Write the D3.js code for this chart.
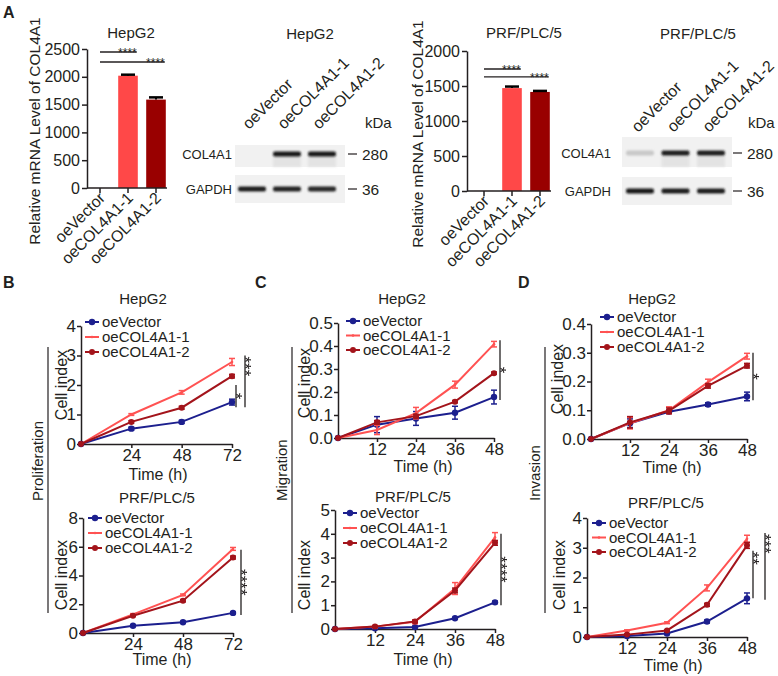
<!DOCTYPE html>
<html><head><meta charset="utf-8">
<script src="https://cdn.jsdelivr.net/npm/d3@7"></script>
<style>
body{margin:0;background:#fff;}
svg{display:block;}
.star{opacity:0.999;}
</style></head><body>
<svg id="chart" width="778" height="676"></svg>
<script>
// ---------------- DATA ----------------
const groups = ["oeVector", "oeCOL4A1-1", "oeCOL4A1-2"];
const mrnaHepG2 = [1, 2020, 1590];
const mrnaHepG2Err = [0, 18, 40];
const mrnaPRF = [1, 1470, 1415];
const mrnaPRFErr = [0, 22, 15];
const mrnaTicksHepG2 = [0, 500, 1000, 1500, 2000, 2500];
const mrnaTicksPRF = [0, 500, 1000, 1500, 2000];
const sigHepG2 = [{from: 0, to: 1, level: 2446, label: "****"}, {from: 0, to: 2, level: 2266, label: "****"}];
const sigPRF = [{from: 0, to: 1, level: 1743, label: "****"}, {from: 0, to: 2, level: 1629, label: "****"}];

const blotHepG2COL = [0.0, 0.95, 0.95];
const blotHepG2GAPDH = [0.92, 0.9, 0.88];
const blotPRFCOL = [0.18, 0.92, 0.92];
const blotPRFGAPDH = [0.95, 0.92, 0.92];

const timeProlif = [0, 24, 48, 72];
const timeMigInv = [0, 12, 24, 36, 48];

// Proliferation
const prolHepVector = [0, 0.52, 0.75, 1.42];
const prolHepC1 = [0, 1.0, 1.75, 2.78];
const prolHepC2 = [0, 0.75, 1.23, 2.3];
const prolHepErr = [[0, 0.05, 0.05, 0.1], [0, 0.03, 0.06, 0.12], [0, 0.04, 0.05, 0.06]];
const prolPRFVector = [0, 0.5, 0.75, 1.4];
const prolPRFC1 = [0, 1.3, 2.65, 5.85];
const prolPRFC2 = [0, 1.2, 2.25, 5.25];
const prolPRFErr = [[0, 0.04, 0.05, 0.06], [0, 0.05, 0.06, 0.1], [0, 0.05, 0.08, 0.1]];
// Migration
const migHepVector = [0, 0.058, 0.085, 0.11, 0.178];
const migHepC1 = [0, 0.035, 0.108, 0.232, 0.408];
const migHepC2 = [0, 0.068, 0.095, 0.158, 0.282];
const migHepErr = [[0, 0.035, 0.03, 0.028, 0.03], [0, 0.02, 0.025, 0.015, 0.012], [0, 0.008, 0.008, 0.005, 0.005]];
const migPRFVector = [0, 0.03, 0.08, 0.45, 1.12];
const migPRFC1 = [0, 0.1, 0.3, 1.7, 3.85];
const migPRFC2 = [0, 0.1, 0.32, 1.62, 3.62];
const migPRFErr = [[0, 0.02, 0.02, 0.03, 0.05], [0, 0.05, 0.08, 0.25, 0.2], [0, 0.03, 0.05, 0.1, 0.1]];
// Invasion
const invHepVector = [0, 0.055, 0.095, 0.12, 0.148];
const invHepC1 = [0, 0.055, 0.1, 0.198, 0.288];
const invHepC2 = [0, 0.058, 0.098, 0.185, 0.255];
const invHepErr = [[0, 0.015, 0.005, 0.006, 0.015], [0, 0.02, 0.012, 0.01, 0.01], [0, 0.02, 0.01, 0.008, 0.008]];
const invPRFVector = [0, 0.03, 0.12, 0.52, 1.3];
const invPRFC1 = [0, 0.22, 0.48, 1.65, 3.3];
const invPRFC2 = [0, 0.08, 0.22, 1.08, 3.08];
const invPRFErr = [[0, 0.02, 0.03, 0.05, 0.18], [0, 0.02, 0.03, 0.1, 0.12], [0, 0.02, 0.02, 0.05, 0.1]];

// ---------------- STYLE ----------------
const FONT = '"Liberation Sans", Arial, Helvetica, sans-serif';
const ink = "#231f20";
const colors = ["#1c1f8e", "#ff5252", "#a3141b"];
const markerR = [3.2, 1.3, 3.0];
const barFill = ["#ff4848", "#ff4848", "#990000"];

const svg = d3.select("#chart").attr("font-family", FONT);
const defs = svg.append("defs");
defs.append("filter").attr("id", "blur").attr("x", "-20%").attr("y", "-50%").attr("width", "140%").attr("height", "200%")
  .append("feGaussianBlur").attr("stdDeviation", 0.8);

function txt(x, y, s, size, opts = {}) {
  const t = svg.append("text").attr("x", x).attr("y", y).text(s)
    .attr("font-size", size).attr("fill", ink)
    .attr("text-anchor", opts.anchor || "start");
  if (opts.weight) t.attr("font-weight", opts.weight);
  if (opts.rotate !== undefined) t.attr("transform", `rotate(${opts.rotate},${x},${y})`);
  return t;
}
function styleAxis(g, fs) {
  g.attr("font-family", FONT).attr("font-size", fs);
  g.selectAll(".domain").attr("stroke", ink).attr("stroke-width", 1.5);
  g.selectAll(".tick line").attr("stroke", ink).attr("stroke-width", 1.5);
  g.selectAll(".tick text").attr("fill", ink);
}

// panel letters
[["A", 3, 18], ["B", 3, 288], ["C", 255, 288], ["D", 518, 288]].forEach(d => txt(d[1], d[2], d[0], 16, {weight: "bold"}));

// ---------------- BAR CHARTS ----------------
function barChart(cfg, vals, errs, ticks, sigs) {
  const g = svg.append("g");
  const x = d3.scaleBand().domain(groups).range(cfg.xr).paddingInner(0.3).paddingOuter(0.15);
  const y = d3.scaleLinear().domain([0, cfg.ymax]).range([cfg.y0, cfg.y1]);
  const bw = x.bandwidth();
  g.selectAll("rect.bar").data(groups).join("rect").attr("class", "bar")
    .attr("x", d => x(d)).attr("width", bw)
    .attr("y", (d, i) => y(vals[i])).attr("height", (d, i) => cfg.y0 - y(vals[i]))
    .attr("fill", (d, i) => barFill[i]);
  groups.forEach((d, i) => {
    if (errs[i] <= 0) return;
    const cx = x(d) + bw / 2;
    g.append("line").attr("x1", cx).attr("x2", cx).attr("y1", y(vals[i])).attr("y2", y(vals[i] + errs[i])).attr("stroke", "#000").attr("stroke-width", 2);
    g.append("line").attr("x1", cx - 7).attr("x2", cx + 7).attr("y1", y(vals[i] + errs[i])).attr("y2", y(vals[i] + errs[i])).attr("stroke", "#000").attr("stroke-width", 2.5);
  });
  const ya = g.append("g").attr("transform", `translate(${cfg.axisX},0)`)
    .call(d3.axisLeft(y).tickValues(ticks).tickFormat(d3.format("d")).tickSize(5).tickSizeOuter(0).tickPadding(2));
  styleAxis(ya, 16);
  const xa = g.append("g").attr("transform", `translate(0,${cfg.y0})`)
    .call(d3.axisBottom(x).tickSize(5).tickFormat(""));
  xa.select(".domain").remove();
  styleAxis(xa, 16);
  g.append("line").attr("x1", cfg.axisX).attr("x2", cfg.axisEnd).attr("y1", cfg.y0).attr("y2", cfg.y0).attr("stroke", ink).attr("stroke-width", 1.5);
  groups.forEach(d => {
    const px = x(d) + bw / 2 + 6, py = cfg.y0 + 11;
    txt(px, py, d, 16, {anchor: "end", rotate: -45});
  });
  sigs.forEach(s => {
    const x1 = x(groups[s.from]) + bw / 2, x2 = x(groups[s.to]) + bw - 1;
    const yy = y(s.level);
    g.append("line").attr("x1", x1).attr("x2", x2).attr("y1", yy).attr("y2", yy).attr("stroke", ink).attr("stroke-width", 1.3);
    txt(x2, yy + 5, s.label, 12, {anchor: "end"});
  });
  txt(cfg.titleX, 38, cfg.title, 15, {anchor: "middle"});
  txt(cfg.ylabX, cfg.ylabY, "Relative mRNA Level of COL4A1", 15.5, {anchor: "middle", rotate: -90});
}
barChart({xr: [86, 170], axisX: 87, axisEnd: 167, y0: 188, y1: 49, ymax: 2500, title: "HepG2", titleX: 131, ylabX: 40, ylabY: 131},
  mrnaHepG2, mrnaHepG2Err, mrnaTicksHepG2, sigHepG2);
barChart({xr: [470, 554], axisX: 467, axisEnd: 551, y0: 191, y1: 51, ymax: 2000, title: "PRF/PLC/5", titleX: 524, ylabX: 423, ylabY: 134},
  mrnaPRF, mrnaPRFErr, mrnaTicksPRF, sigPRF);

// ---------------- WESTERN BLOTS ----------------
function blot(cfg, colVals, gapdhVals) {
  const g = svg.append("g");
  const x = d3.scalePoint().domain(groups).range(cfg.lanes);
  txt(cfg.titleX, 39, cfg.title, 15, {anchor: "middle"});
  groups.forEach(d => txt(x(d) + cfg.labDx, cfg.labY, d, 16, {rotate: -45}));
  txt(cfg.kdaX, 128, "kDa", 15);
  const rows = [
    {name: "COL4A1", vals: colVals, box: cfg.box1, band: cfg.band1, kda: "280", smear: true},
    {name: "GAPDH", vals: gapdhVals, box: cfg.box2, band: cfg.band2, kda: "36", smear: false}
  ];
  rows.forEach(r => {
    g.append("rect").attr("x", cfg.boxX[0]).attr("width", cfg.boxX[1] - cfg.boxX[0])
      .attr("y", r.box[0]).attr("height", r.box[1] - r.box[0]).attr("fill", "#f1f1f1");
    groups.forEach((d, i) => {
      const v = r.vals[i];
      if (r.smear && v > 0.3) {
        g.append("rect").attr("x", x(d) - 14).attr("width", 28).attr("y", r.band + 2).attr("height", r.box[1] - r.band - 2)
          .attr("fill", "#d9d9d9").attr("opacity", 0.6 * v).attr("filter", "url(#blur)");
      }
      g.append("rect").attr("x", x(d) - 14).attr("width", 28).attr("y", r.band - 2.5).attr("height", 5).attr("rx", 2)
        .attr("fill", d3.interpolateRgb("#f1f1f1", "#0c0c0c")(v)).attr("filter", "url(#blur)");
    });
    txt(cfg.rowLabX, r.band + 5, r.name, 13, {anchor: "end"});
    g.append("line").attr("x1", cfg.dashX).attr("x2", cfg.dashX + 9).attr("y1", r.band).attr("y2", r.band).attr("stroke", ink).attr("stroke-width", 1.2);
    txt(cfg.dashX + 14, r.band + 5.5, r.kda, 15.5);
  });
}
blot({lanes: [252, 322], labDx: -3, labY: 130, title: "HepG2", titleX: 310, kdaX: 365, boxX: [235, 345],
      box1: [145, 167], box2: [175, 203], band1: 154, band2: 189, rowLabX: 232, dashX: 348},
  blotHepG2COL, blotHepG2GAPDH);
blot({lanes: [640, 711], labDx: -2, labY: 133, title: "PRF/PLC/5", titleX: 698, kdaX: 748, boxX: [622, 732],
      box1: [137, 167], box2: [177, 205], band1: 153, band2: 191, rowLabX: 611, dashX: 733},
  blotPRFCOL, blotPRFGAPDH);

// ---------------- LINE CHARTS ----------------
function lineChart(cfg, times, series, errs) {
  const g = svg.append("g");
  const x = d3.scaleLinear().domain([0, d3.max(times)]).range([cfg.x0, cfg.x1]);
  const y = d3.scaleLinear().domain([0, cfg.ymax]).range([cfg.y0, cfg.y1]);
  const ya = g.append("g").attr("transform", `translate(${cfg.x0},0)`)
    .call(d3.axisLeft(y).tickValues(cfg.yticks).tickFormat(cfg.fmt).tickSize(4).tickSizeOuter(0).tickPadding(1));
  styleAxis(ya, 17);
  const xa = g.append("g").attr("transform", `translate(0,${cfg.y0})`)
    .call(d3.axisBottom(x).tickValues(times.filter(t => t > 0)).tickFormat(d3.format("d")).tickSize(4).tickSizeOuter(0).tickPadding(1));
  styleAxis(xa, 17);
  series.forEach((vals, i) => {
    const pts = times.map((t, j) => ({t, v: vals[j], e: errs[i][j]}));
    g.append("path").datum(pts).attr("fill", "none").attr("stroke", colors[i]).attr("stroke-width", 2)
      .attr("d", d3.line().x(d => x(d.t)).y(d => y(d.v)));
    pts.filter(d => d.e > 0).forEach(d => {
      const lo = Math.max(0, d.v - d.e), hi = d.v + d.e;
      g.append("line").attr("x1", x(d.t)).attr("x2", x(d.t)).attr("y1", y(lo)).attr("y2", y(hi)).attr("stroke", colors[i]).attr("stroke-width", 1.5);
      [lo, hi].forEach(v => g.append("line").attr("x1", x(d.t) - 3).attr("x2", x(d.t) + 3).attr("y1", y(v)).attr("y2", y(v)).attr("stroke", colors[i]).attr("stroke-width", 1.5));
    });
    g.selectAll(null).data(pts).join("circle").attr("cx", d => x(d.t)).attr("cy", d => y(d.v)).attr("r", markerR[i]).attr("fill", colors[i]);
  });
  groups.forEach((name, i) => {
    const ly = cfg.legY + i * cfg.legStep;
    g.append("line").attr("x1", cfg.legX).attr("x2", cfg.legX + 14).attr("y1", ly).attr("y2", ly).attr("stroke", colors[i]).attr("stroke-width", 2);
    g.append("circle").attr("cx", cfg.legX + 7).attr("cy", ly).attr("r", markerR[i]).attr("fill", colors[i]);
    txt(cfg.legX + 17, ly + 5.3, name, 15);
  });
  cfg.sig.forEach(s => {
    const lx = cfg.x1 + s.dx;
    const ya0 = y(s.y0), ya1 = y(s.y1);
    g.append("line").attr("x1", lx).attr("x2", lx).attr("y1", ya0).attr("y2", ya1).attr("stroke", ink).attr("stroke-width", 1.3);
    const top = s.pos === "top";
    const ty = top ? ya1 + 1 : (ya0 + ya1) / 2;
    txt(lx - 6, ty, s.label, 17, {anchor: top ? "start" : "middle", rotate: 90}).attr("class", "star");
  });
  txt(cfg.titleX, cfg.titleY, cfg.title, 15, {anchor: "middle"});
  txt(cfg.timeX, cfg.timeY, "Time (h)", 16, {anchor: "middle"});
  txt(cfg.cellX, cfg.cellY, "Cell index", 16, {anchor: "middle", rotate: -90});
}
const f1 = d3.format(".1f"), f0 = d3.format("d");

lineChart({x0: 81, x1: 232, y0: 444, y1: 326, ymax: 4, yticks: [0, 1, 2, 3, 4], fmt: f0,
  legX: 85, legY: 322, legStep: 15, title: "HepG2", titleX: 143, titleY: 304, timeX: 158, timeY: 480, cellX: 67, cellY: 385,
  sig: [{label: "*", y0: 1.25, y1: 2.0, dx: 4, pos: "mid"}, {label: "***", y0: 1.25, y1: 3.0, dx: 13, pos: "top"}]},
  timeProlif, [prolHepVector, prolHepC1, prolHepC2], prolHepErr);
lineChart({x0: 83, x1: 233, y0: 633, y1: 518, ymax: 8, yticks: [0, 2, 4, 6, 8], fmt: f0,
  legX: 88, legY: 518, legStep: 15, title: "PRF/PLC/5", titleX: 157, titleY: 503, timeX: 162, timeY: 665, cellX: 67, cellY: 575,
  sig: [{label: "****", y0: 1.25, y1: 5.8, dx: 8, pos: "mid"}]},
  timeProlif, [prolPRFVector, prolPRFC1, prolPRFC2], prolPRFErr);

lineChart({x0: 338, x1: 494, y0: 438, y1: 323, ymax: 0.5, yticks: [0, 0.1, 0.2, 0.3, 0.4, 0.5], fmt: f1,
  legX: 346, legY: 321, legStep: 14.5, title: "HepG2", titleX: 402, titleY: 304, timeX: 423, timeY: 472, cellX: 310, cellY: 383,
  sig: [{label: "*", y0: 0.165, y1: 0.425, dx: 6, pos: "mid"}]},
  timeMigInv, [migHepVector, migHepC1, migHepC2], migHepErr);
lineChart({x0: 335, x1: 495, y0: 629, y1: 510, ymax: 5, yticks: [0, 1, 2, 3, 4, 5], fmt: f0,
  legX: 343, legY: 513, legStep: 15, title: "PRF/PLC/5", titleX: 413, titleY: 502, timeX: 423, timeY: 665, cellX: 310, cellY: 575,
  sig: [{label: "****", y0: 1.0, y1: 4.0, dx: 6, pos: "mid"}]},
  timeMigInv, [migPRFVector, migPRFC1, migPRFC2], migPRFErr);

lineChart({x0: 591, x1: 747, y0: 439, y1: 324, ymax: 0.4, yticks: [0, 0.1, 0.2, 0.3, 0.4], fmt: f1,
  legX: 600, legY: 317, legStep: 15, title: "HepG2", titleX: 652, titleY: 304, timeX: 672, timeY: 473, cellX: 563, cellY: 379,
  sig: [{label: "*", y0: 0.135, y1: 0.3, dx: 6, pos: "mid"}]},
  timeMigInv, [invHepVector, invHepC1, invHepC2], invHepErr);
lineChart({x0: 587, x1: 747, y0: 637, y1: 518, ymax: 4, yticks: [0, 1, 2, 3, 4], fmt: f0,
  legX: 592, legY: 523, legStep: 14.5, title: "PRF/PLC/5", titleX: 666, titleY: 508, timeX: 673, timeY: 671, cellX: 565, cellY: 575,
  sig: [{label: "**", y0: 1.3, y1: 2.9, dx: 6, pos: "top"}, {label: "***", y0: 1.25, y1: 3.5, dx: 18, pos: "top"}]},
  timeMigInv, [invPRFVector, invPRFC1, invPRFC2], invPRFErr);

// category labels with separators
[{label: "Proliferation", lineX: 48}, {label: "Migration", lineX: 292}, {label: "Invasion", lineX: 545}].forEach(c => {
  svg.append("line").attr("x1", c.lineX).attr("x2", c.lineX).attr("y1", 347).attr("y2", 613).attr("stroke", ink).attr("stroke-width", 1.2);
  txt(c.lineX - 5, 501, c.label, 15, {anchor: "start", rotate: -90});
});
</script>
</body></html>
